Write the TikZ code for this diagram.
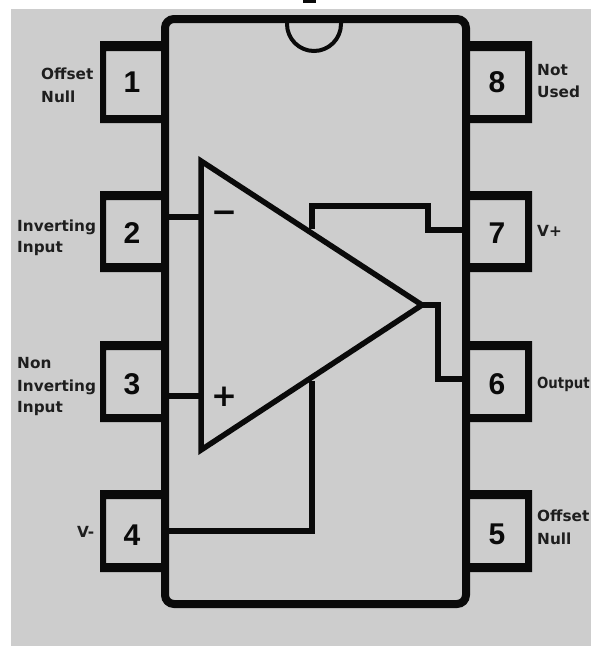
\documentclass[tikz,border=0pt]{standalone}
\usepackage{fontspec}
\setmainfont{Liberation Sans}
\newfontfamily\lblfont[Scale=1]{DejaVu Sans}
\definecolor{panel}{HTML}{CDCDCD}
\definecolor{ink}{HTML}{0A0A0A}
\definecolor{lbl}{HTML}{1E1E1E}
\tikzset{
  x=1pt,y=-1pt,
  chipline/.style={draw=ink,line width=8pt,rounded corners=9pt},
  wire/.style={draw=ink,line width=5.5pt,line join=miter},
  pinframe/.style={fill=ink,even odd rule},
  pinnum/.style={inner sep=0pt,text=ink,font=\fontsize{30}{30}\selectfont\bfseries},
  pinlabel/.style={inner sep=0pt,anchor=base west,text=lbl,font=\lblfont\fontsize{15.3}{15.3}\selectfont\bfseries},
  sign/.style={inner sep=0pt,text=ink,font=\lblfont\fontsize{31}{31}\selectfont\bfseries}
}
\begin{document}
\begin{tikzpicture}
\useasboundingbox (0,0) rectangle (591,646);
\fill[white] (0,0) rectangle (591,646);
\fill[panel] (11,9) rectangle (591,646);
\fill[ink] (303,0) rectangle (316,2.5);
% pin frames
\foreach \t/\b/\it/\ib in {41/123/51/115,191/272/200/263,341/422/350/414,490/572/499/563}{
  \path[pinframe] (100,\t) rectangle (165,\b) (106,\it) rectangle (165,\ib);
  \path[pinframe] (466,\t) rectangle (532,\b) (466,\it) rectangle (525,\ib);
}
% chip body
\draw[chipline] (165,19) rectangle (466,604);
% notch
\draw[draw=ink,line width=4pt] (287,21) -- (287,24) arc[start angle=180,end angle=0,radius=27] -- (341,21);
% pin numbers
\node[pinnum] (pa) at (132,82.5) {1};
\node[pinnum] (pb) at (132,233) {2};
\node[pinnum] (pc) at (132,384) {3};
\node[pinnum] (pd) at (132,535) {4};
\node[pinnum] (pe) at (497,534) {5};
\node[pinnum] (pf) at (497,384) {6};
\node[pinnum] (pg) at (497,233) {7};
\node[pinnum] (ph) at (497,82.5) {8};
% amplifier
\coordinate (tl) at (201,161);
\coordinate (bl) at (201,450);
\coordinate (apex) at (422,305);
\draw[wire] (tl) -- (apex) -- (bl) -- cycle;
% connector ends
\coordinate (wb) at (165,217);
\coordinate (wba) at (201,217);
\coordinate (wc) at (165,396);
\coordinate (wca) at (201,396);
\coordinate (wd) at (165,531);
\coordinate (wda) at (312,381);
\coordinate (wg) at (466,230);
\coordinate (wga) at (312,229);
\coordinate (wf) at (466,379);
\draw[wire] (wb) -- (wba);
\draw[wire] (wc) -- (wca);
\draw[wire] (wd) -| (wda);
\draw[wire] (wga) |- (428,206) |- (wg);
\draw[wire] (apex) -| (438,379) -- (wf);
% signs
\node[sign] (minus) at (224,217) {−};
\node[sign] (plus) at (224,397) {+};
% labels
\node[pinlabel] (la) at (41,79) {Offset};
\node[pinlabel] (lb) at (41,102) {Null};
\node[pinlabel] (lc) at (17,231) {Inverting};
\node[pinlabel] (ld) at (17,252) {Input};
\node[pinlabel] (le) at (17,368) {Non};
\node[pinlabel] (lf) at (17,391) {Inverting};
\node[pinlabel] (lg) at (17,412) {Input};
\node[pinlabel] (lh) at (77,537) {V-};
\node[pinlabel] (li) at (537,75) {Not};
\node[pinlabel] (lj) at (537,97) {Used};
\node[pinlabel] (lk) at (537,236) {V+};
\node[pinlabel,xscale=0.87] (ll) at (537,388) {Output};
\node[pinlabel] (lm) at (537,521) {Offset};
\node[pinlabel] (ln) at (537,544) {Null};
\end{tikzpicture}
\end{document}
